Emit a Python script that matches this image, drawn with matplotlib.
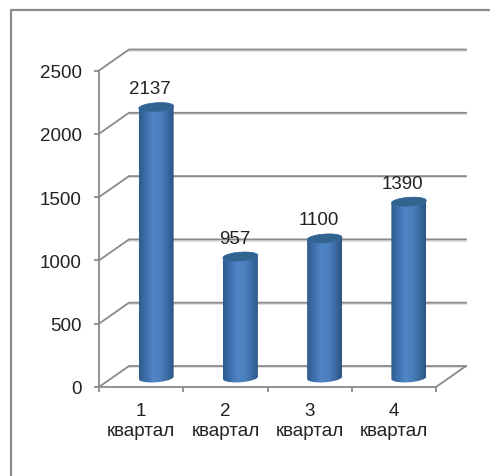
import numpy as np
import matplotlib
matplotlib.use("Agg")
import matplotlib.pyplot as plt
from matplotlib.colors import LinearSegmentedColormap
from matplotlib.lines import Line2D
from matplotlib.patches import Polygon

categories = ["1\nквартал", "2\nквартал", "3\nквартал", "4\nквартал"]
values = [2137, 957, 1100, 1390]
y_ticks = [0, 500, 1000, 1500, 2000, 2500]

W, H = 490, 477
LEFT, RIGHT, TOP, BOTTOM = 99, 436, 71.5, 388
GREY = "#8a8a8a"
TEXT = "#222222"
DEPTH_X = 30 / ((RIGHT - LEFT) / 4)
DEPTH_Y = 21 / ((BOTTOM - TOP) / 2500)
BAR_W = 35 / ((RIGHT - LEFT) / 4)
CAP_H = 4.5 / ((BOTTOM - TOP) / 2500)
TILT = 1.2 / ((BOTTOM - TOP) / 2500)

cyl_cmap = LinearSegmentedColormap.from_list(
    "cyl", ["#2f5c90", "#3f70ac", "#4f84c6", "#4c80c0", "#3d6da6", "#2c5584"]
)


def draw_cylinder(ax, x, value):
    """Draw one cylinder with a gradient body and a slightly tilted dark cap."""
    cx = x + DEPTH_X / 2
    base = DEPTH_Y / 2 - 10
    top = value + DEPTH_Y / 2 - 10
    t = np.linspace(0, np.pi, 40)
    ex = np.cos(t)
    ey = np.sin(t) * CAP_H + ex * TILT
    outline = np.vstack([
        np.column_stack([cx - ex * BAR_W / 2, base - ey]),
        np.column_stack([cx + ex * BAR_W / 2, top + ey]),
    ])
    clip = Polygon(outline, closed=True, transform=ax.transData, fc="none", ec="none")
    ax.add_patch(clip)
    im = ax.imshow(
        np.linspace(0, 1, 64).reshape(1, -1),
        cmap=cyl_cmap,
        extent=[cx - BAR_W / 2, cx + BAR_W / 2, base - 2 * CAP_H, top + 2 * CAP_H],
        aspect="auto",
        zorder=3,
    )
    im.set_clip_path(clip)
    t2 = np.linspace(0, 2 * np.pi, 60)
    cap = Polygon(
        np.column_stack([
            cx + np.cos(t2) * BAR_W / 2,
            top + np.sin(t2) * CAP_H + np.cos(t2) * TILT,
        ]),
        closed=True, fc="#33648f", ec="#3a6da5", lw=0.4, zorder=4,
    )
    ax.add_patch(cap)


def main():
    fig = plt.figure(figsize=(W / 100, H / 100), dpi=100)
    plt.rcParams["font.family"] = ["Liberation Sans", "DejaVu Sans"]

    # outer chart border, only left and top are in view
    fig.add_artist(Line2D([11 / W, 11 / W, 1], [0, 1 - 10.5 / H, 1 - 10.5 / H], color=GREY, lw=1.6))

    ax = fig.add_axes([LEFT / W, 1 - BOTTOM / H, (RIGHT - LEFT) / W, (BOTTOM - TOP) / H])
    ax.patch.set_visible(False)

    # back wall gridlines and the slanted side wall lines
    n = len(categories)
    for tick in y_ticks:
        ax.plot([0, DEPTH_X, n + DEPTH_X], [tick, tick + DEPTH_Y, tick + DEPTH_Y],
                color=GREY, lw=1.3, clip_on=False, zorder=1, solid_joinstyle="miter")
        ax.plot([DEPTH_X, n + DEPTH_X], [tick + DEPTH_Y - 10, tick + DEPTH_Y - 10],
                color="#dcdcdc", lw=1.2, clip_on=False, zorder=0.9)
    # right edge of the floor
    ax.plot([n, n + DEPTH_X], [0, DEPTH_Y], color=GREY, lw=1.3, clip_on=False, zorder=1)

    for i, value in enumerate(values):
        draw_cylinder(ax, i + 0.5, value)
        ax.annotate(str(value), (i + 0.5, value), xytext=(6.5, 20), textcoords="offset points",
                    ha="center", va="center", fontsize=13.5, color=TEXT, zorder=5,
                    annotation_clip=False)

    ax.set_xlim(0, n)
    ax.set_ylim(0, 2500)
    ax.set_yticks(y_ticks)
    ax.set_xticks(range(n + 1))
    ax.set_xticklabels([])
    ax.set_xticks(np.arange(n) + 0.5, labels=categories, minor=True)
    ax.tick_params(axis="x", which="major", length=3.5, width=1.3, color=GREY)
    ax.tick_params(axis="x", which="minor", length=0, pad=11, labelsize=13.5, labelcolor=TEXT)
    ax.tick_params(axis="y", length=3.5, width=1.3, color=GREY, pad=9, labelsize=13.5, labelcolor=TEXT)
    for side in ("top", "right"):
        ax.spines[side].set_visible(False)
    for side in ("left", "bottom"):
        ax.spines[side].set_color(GREY)
        ax.spines[side].set_linewidth(1.3)

    fig.savefig("out.png", dpi=100)
    plt.close(fig)


if __name__ == "__main__":
    main()
